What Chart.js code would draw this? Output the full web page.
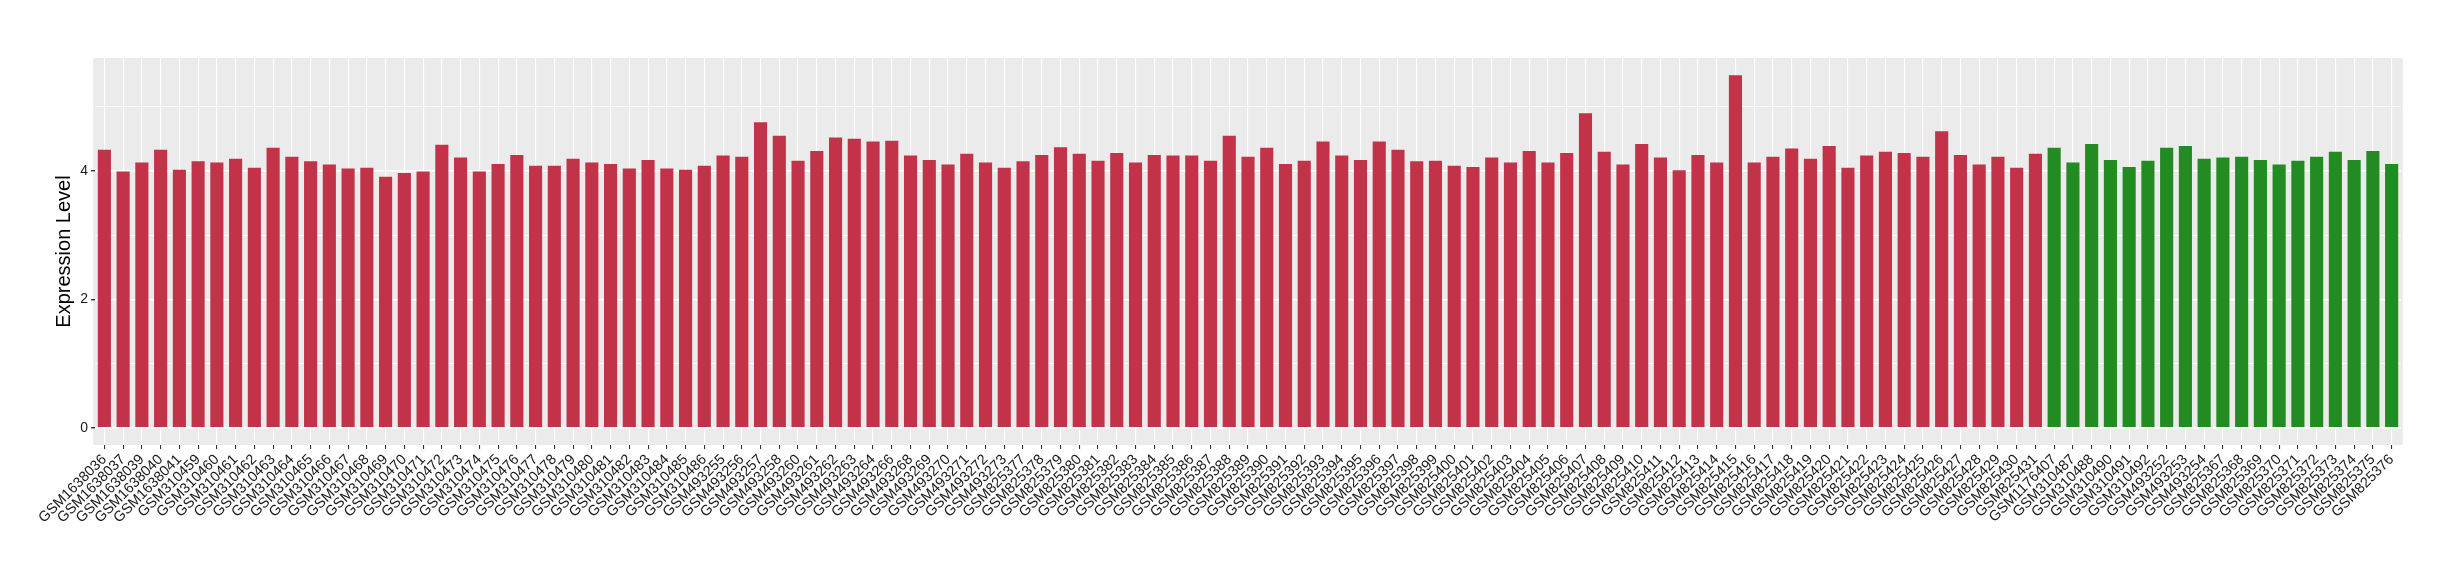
<!DOCTYPE html>
<html>
<head>
<meta charset="utf-8">
<script src="https://cdn.jsdelivr.net/npm/chart.js@4/dist/chart.umd.min.js"></script>
<style>
  html, body { margin: 0; padding: 0; background: #fff; }
</style>
</head>
<body>
<canvas id="myChart" width="2460" height="580"></canvas>
<script>
const redSamples = [
  "GSM1638036", "GSM1638037", "GSM1638039", "GSM1638040", "GSM1638041",
  "GSM310459", "GSM310460", "GSM310461", "GSM310462", "GSM310463", "GSM310464",
  "GSM310465", "GSM310466", "GSM310467", "GSM310468", "GSM310469", "GSM310470",
  "GSM310471", "GSM310472", "GSM310473", "GSM310474", "GSM310475", "GSM310476",
  "GSM310477", "GSM310478", "GSM310479", "GSM310480", "GSM310481", "GSM310482",
  "GSM310483", "GSM310484", "GSM310485", "GSM310486",
  "GSM493255", "GSM493256", "GSM493257", "GSM493258", "GSM493260", "GSM493261",
  "GSM493262", "GSM493263", "GSM493264", "GSM493266", "GSM493268", "GSM493269",
  "GSM493270", "GSM493271", "GSM493272", "GSM493273",
  "GSM825377", "GSM825378", "GSM825379", "GSM825380", "GSM825381", "GSM825382",
  "GSM825383", "GSM825384", "GSM825385", "GSM825386", "GSM825387", "GSM825388",
  "GSM825389", "GSM825390", "GSM825391", "GSM825392", "GSM825393", "GSM825394",
  "GSM825395", "GSM825396", "GSM825397", "GSM825398", "GSM825399", "GSM825400",
  "GSM825401", "GSM825402", "GSM825403", "GSM825404", "GSM825405", "GSM825406",
  "GSM825407", "GSM825408", "GSM825409", "GSM825410", "GSM825411", "GSM825412",
  "GSM825413", "GSM825414", "GSM825415", "GSM825416", "GSM825417", "GSM825418",
  "GSM825419", "GSM825420", "GSM825421", "GSM825422", "GSM825423", "GSM825424",
  "GSM825425", "GSM825426", "GSM825427", "GSM825428", "GSM825429", "GSM825430",
  "GSM825431",
];
const redValues = [
  4.33, 3.99, 4.13, 4.33, 4.02,
  4.15, 4.13, 4.19, 4.05, 4.36, 4.22,
  4.15, 4.10, 4.04, 4.05, 3.91, 3.97,
  3.99, 4.41, 4.21, 3.99, 4.11, 4.25,
  4.08, 4.08, 4.19, 4.13, 4.11, 4.04,
  4.17, 4.04, 4.02, 4.08,
  4.24, 4.22, 4.76, 4.55, 4.16, 4.31,
  4.52, 4.50, 4.46, 4.47, 4.24, 4.17,
  4.10, 4.27, 4.13, 4.05,
  4.15, 4.25, 4.37, 4.27, 4.16, 4.28,
  4.13, 4.25, 4.24, 4.24, 4.16, 4.55,
  4.22, 4.36, 4.11, 4.16, 4.46, 4.24,
  4.17, 4.46, 4.33, 4.15, 4.16, 4.08,
  4.06, 4.21, 4.13, 4.31, 4.13, 4.28,
  4.90, 4.30, 4.10, 4.42, 4.21, 4.01,
  4.25, 4.13, 5.49, 4.13, 4.22, 4.35,
  4.19, 4.39, 4.05, 4.24, 4.30, 4.28,
  4.22, 4.62, 4.25, 4.10, 4.22, 4.05,
  4.27,
];
const greenSamples = [
  "GSM1176407", "GSM310487", "GSM310488", "GSM310490", "GSM310491", "GSM310492",
  "GSM493252", "GSM493253", "GSM493254",
  "GSM825367", "GSM825368", "GSM825369", "GSM825370", "GSM825371", "GSM825372",
  "GSM825373", "GSM825374", "GSM825375", "GSM825376",
];
const greenValues = [
  4.36, 4.13, 4.42, 4.17, 4.06, 4.16,
  4.36, 4.39, 4.19,
  4.21, 4.22, 4.17, 4.10, 4.16, 4.22,
  4.30, 4.17, 4.31, 4.11,
];
const yTickValues = [0, 1, 2, 3, 4, 5];

const labels = redSamples.concat(greenSamples);
const values = redValues.concat(greenValues);
const colors = redSamples.map(() => "#C23249").concat(greenSamples.map(() => "#228B22"));

Chart.defaults.font.family = "'Liberation Sans', Arial, Helvetica, sans-serif";

// grey ggplot-style panel, a little wider than the category range
const panelBackground = {
  id: "panelBackground",
  beforeDraw(chart) {
    const { ctx, chartArea } = chart;
    const step = (chartArea.right - chartArea.left) / labels.length;
    const pad = 0.1 * step;
    ctx.save();
    ctx.fillStyle = "#EBEBEB";
    ctx.fillRect(chartArea.left - pad, chartArea.top,
      chartArea.right - chartArea.left + 2 * pad, chartArea.bottom - chartArea.top);
    ctx.restore();
  },
};

new Chart(document.getElementById("myChart"), {
  type: "bar",
  data: {
    labels: labels,
    datasets: [
      {
        data: values,
        backgroundColor: colors,
        borderWidth: 0,
        barPercentage: 0.7,
        categoryPercentage: 1.0,
      },
    ],
  },
  plugins: [panelBackground],
  options: {
    responsive: false,
    animation: false,
    devicePixelRatio: 1,
    layout: { padding: { left: 0, right: 59, top: 58, bottom: 0 } },
    plugins: {
      legend: { display: false },
      tooltip: { enabled: false },
    },
    scales: {
      x: {
        offset: true,
        border: { display: false },
        grid: {
          offset: false,
          color: "#FFFFFF",
          lineWidth: 1.1,
          tickLength: 4,
          tickColor: "#333333",
        },
        ticks: {
          autoSkip: false,
          maxRotation: 45,
          minRotation: 45,
          padding: 2,
          color: "#1A1A1A",
          font: { size: 14.5 },
        },
        afterFit: (scale) => {
          scale.height = 135;
        },
      },
      y: {
        min: -0.27,
        max: 5.76,
        border: { display: false },
        afterBuildTicks: (scale) => {
          scale.ticks = yTickValues.map((v) => ({ value: v }));
        },
        grid: {
          color: "#FFFFFF",
          lineWidth: (ctx) => (ctx.tick && ctx.tick.value % 2 === 0 ? 1.4 : 0.7),
          tickLength: 4,
          tickColor: (ctx) => (ctx.tick && ctx.tick.value % 2 === 0 ? "#333333" : "rgba(0,0,0,0)"),
        },
        ticks: {
          padding: 3,
          color: "#1A1A1A",
          font: { size: 14 },
          callback: (value) => (value % 2 === 0 ? value : ""),
        },
        title: {
          display: true,
          text: "Expression Level",
          color: "#000000",
          font: { size: 20 },
          padding: { top: 52, bottom: 0 },
        },
        afterFit: (scale) => {
          scale.width = 95;
        },
      },
    },
  },
});
</script>
</body>
</html>
